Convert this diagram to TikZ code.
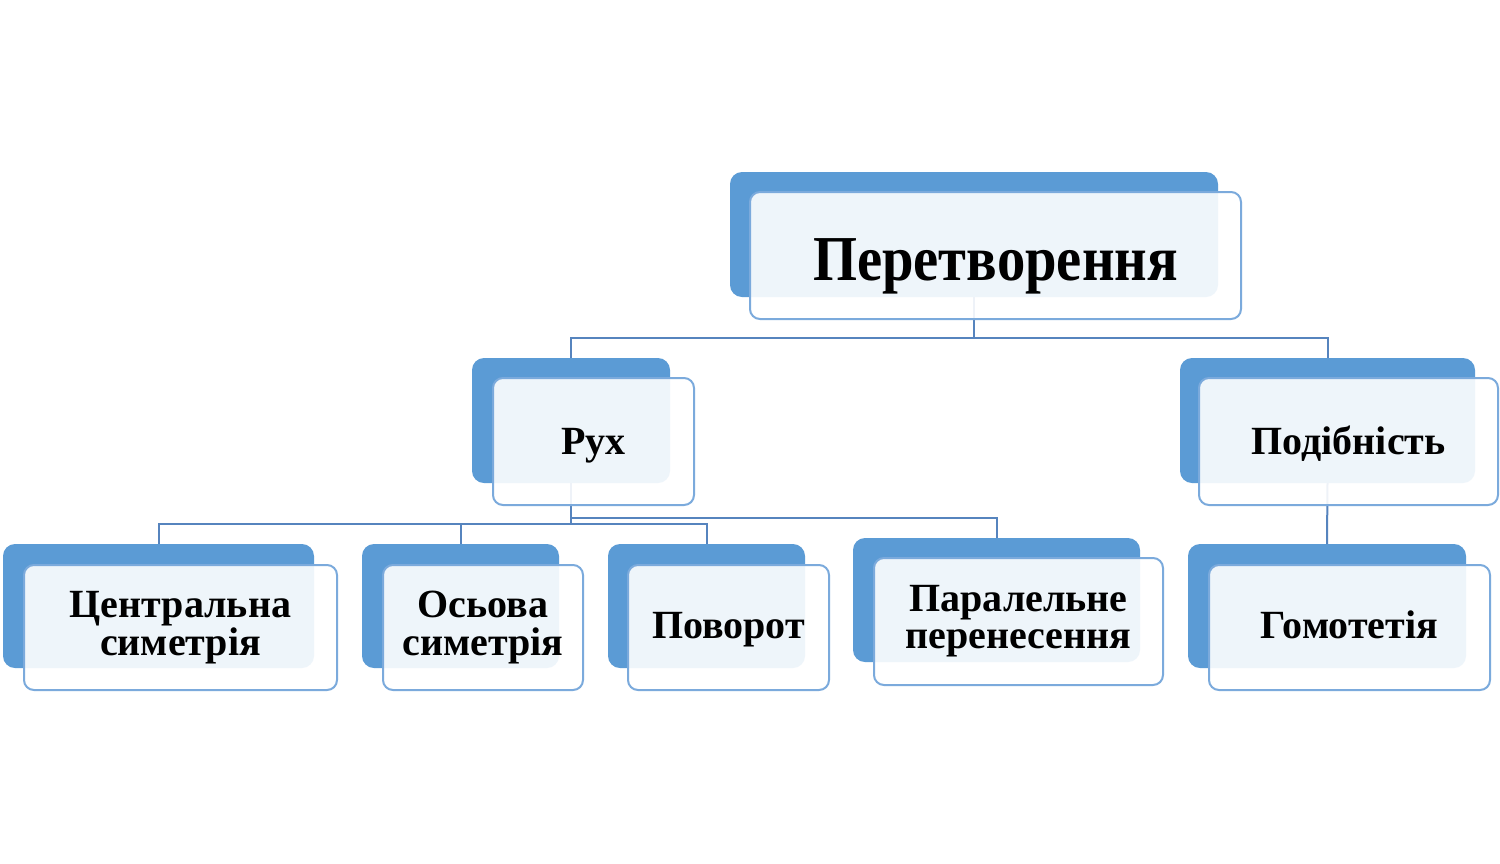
\documentclass[tikz,border=0pt]{standalone}
\usepackage{fontspec}
\usepackage{graphicx}
\setmainfont{Liberation Serif}
\AtBeginDocument{\lineskiplimit=-20pt\relax}
\definecolor{backblue}{HTML}{5B9BD5}
\definecolor{frontline}{HTML}{7BAADC}
\definecolor{connblue}{HTML}{5684BE}
\begin{document}
\begin{tikzpicture}[x=0.5pt,y=-0.5pt,
  back/.style={draw=none,fill=backblue,rounded corners=6pt,inner sep=0pt,outer sep=0pt},
  front/.style={draw=frontline,line width=1pt,fill=white,fill opacity=0.9,text opacity=1,
    rounded corners=5pt,inner sep=0pt,outer sep=0pt,align=center},
  conn/.style={draw=connblue,line width=1pt},
  big/.style={font=\bfseries\fontsize{32}{34}\selectfont,text height=25pt,text depth=0pt},
  mid/.style={font=\bfseries\fontsize{20}{17.5}\selectfont,text height=12.5pt,text depth=0pt},
  low/.style={font=\bfseries\fontsize{20}{17.5}\selectfont,text height=10.5pt,text depth=0pt},
  two/.style={font=\bfseries\fontsize{20}{18.75}\selectfont},
  twob/.style={font=\bfseries\fontsize{20}{18.5}\selectfont}]
\useasboundingbox (0,0) rectangle (1500,863);
\fill[white] (0,0) rectangle (1500,863);
% back boxes
\node[back,minimum width=244pt,minimum height=62.5pt] (pB) at (974,234.5) {};
\node[back,minimum width=99pt,minimum height=62.5pt] (rB) at (571,420.5) {};
\node[back,minimum width=147.5pt,minimum height=62.5pt] (sB) at (1327.5,420.5) {};
\node[back,minimum width=155.5pt,minimum height=62pt] (cB) at (158.5,606) {};
\node[back,minimum width=98.5pt,minimum height=62pt] (oB) at (460.5,606) {};
\node[back,minimum width=98.5pt,minimum height=62pt] (vB) at (706.5,606) {};
\node[back,minimum width=143.5pt,minimum height=62pt] (tB) at (996.5,600) {};
\node[back,minimum width=139pt,minimum height=62pt] (hB) at (1327,606) {};
% connectors
\draw[conn] (pB.south) -- ++(0,41) -| (rB.north);
\draw[conn] (pB.south) -- ++(0,41) -| (sB.north);
\draw[conn] (rB.south) -- ++(0,41) -| (cB.north);
\draw[conn] (rB.south) -- ++(0,41) -| (oB.north);
\draw[conn] (rB.south) -- ++(0,41) -| (vB.north);
\draw[conn] (rB.south) -- ++(0,35) -| (tB.north);
\draw[conn] (sB.south) -- (hB.north);
% front boxes
\node[front,big,minimum width=245.5pt,minimum height=63.5pt] (pF) at (995.5,255.5) {\scalebox{0.885}[1]{Перетворення}};
\node[front,mid,minimum width=100.5pt,minimum height=63.5pt] (rF) at (593.5,441.5) {Рух};
\node[front,mid,minimum width=149.5pt,minimum height=63.5pt] (sF) at (1348.5,441.5) {Подібність};
\node[front,two,minimum width=156.5pt,minimum height=62.5pt] (cF) at (180.5,627.5) {Центральна\\симетрія};
\node[front,two,minimum width=100pt,minimum height=62.5pt] (oF) at (483,627.5) {Осьова\\симетрія};
\node[front,low,minimum width=100.5pt,minimum height=62.5pt] (vF) at (728.5,627.5) {Поворот};
\node[front,twob,minimum width=144.5pt,minimum height=63.5pt] (tF) at (1018.5,621.5) {Паралельне\\перенесення};
\node[front,low,minimum width=140.5pt,minimum height=62.5pt] (hF) at (1349.5,627.5) {Гомотетія};
\end{tikzpicture}
\end{document}
